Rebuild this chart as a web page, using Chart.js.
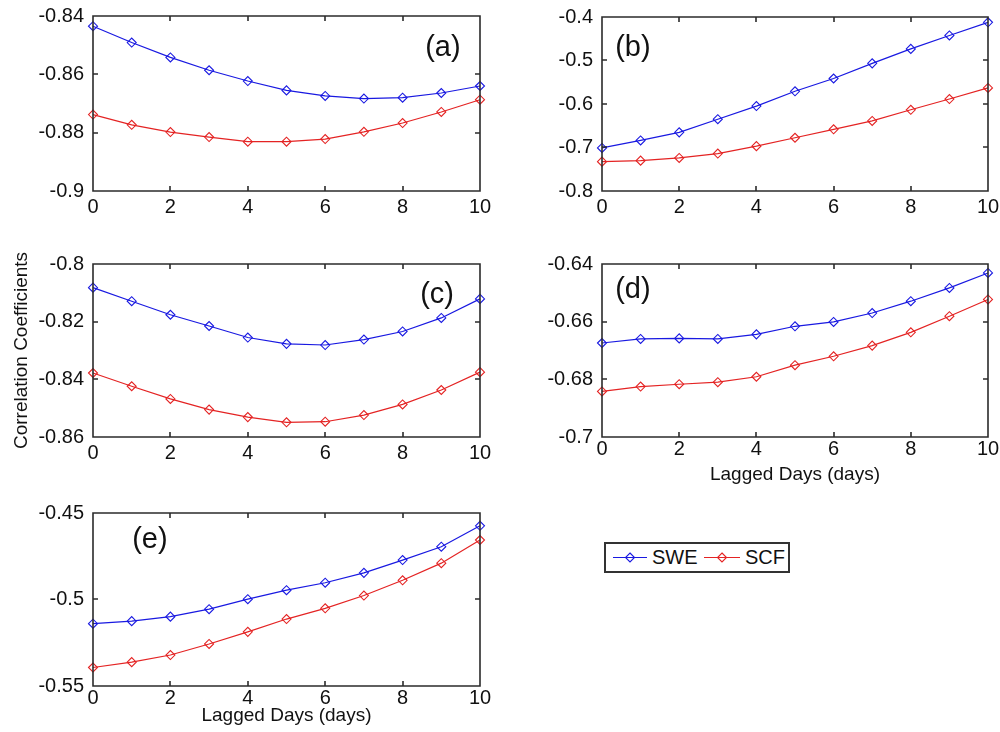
<!DOCTYPE html>
<html>
<head>
<meta charset="utf-8">
<script src="https://cdn.jsdelivr.net/npm/chart.js@4"></script>
<style>
  html, body { margin: 0; padding: 0; background: #fff; }
  #fig { position: relative; width: 1000px; height: 732px; overflow: hidden;
         font-family: "Liberation Sans", Arial, sans-serif; }
  #fig canvas { position: absolute; }
  .legend { position: absolute; left: 604px; top: 542px; width: 186px; height: 31px;
            border: 2px solid #333; box-sizing: border-box; background: #fff; }
  .legend svg { position: absolute; left: 0; top: 0; }
  .legend span { position: absolute; top: 0; line-height: 27px; font-size: 20px; color: #111; }
</style>
</head>
<body>
<div id="fig"></div>
<script>
// Lag (days) on the x axis, shared by every panel
const lagDays = [0, 1, 2, 3, 4, 5, 6, 7, 8, 9, 10];
const xTickValues = [0, 2, 4, 6, 8, 10];
const seriesNames = ['SWE', 'SCF'];

// Correlation coefficients per panel
const sweA = [-0.8435, -0.8491, -0.8542, -0.8586, -0.8623, -0.8655, -0.8674, -0.8683, -0.8680, -0.8664, -0.8640];
const scfA = [-0.8738, -0.8773, -0.8798, -0.8815, -0.8831, -0.8831, -0.8822, -0.8797, -0.8767, -0.8729, -0.8687];
const sweB = [-0.7010, -0.6838, -0.6652, -0.6350, -0.6048, -0.5708, -0.5414, -0.5066, -0.4733, -0.4424, -0.4122];
const scfB = [-0.7325, -0.7302, -0.7240, -0.7139, -0.6969, -0.6776, -0.6582, -0.6389, -0.6133, -0.5886, -0.5631];
const sweC = [-0.8082, -0.8129, -0.8176, -0.8215, -0.8255, -0.8277, -0.8281, -0.8262, -0.8234, -0.8187, -0.8121];
const scfC = [-0.8378, -0.8424, -0.8468, -0.8505, -0.8531, -0.8549, -0.8547, -0.8524, -0.8487, -0.8437, -0.8375];
const sweD = [-0.6674, -0.6660, -0.6658, -0.6660, -0.6644, -0.6616, -0.6601, -0.6570, -0.6529, -0.6483, -0.6431];
const scfD = [-0.6842, -0.6825, -0.6817, -0.6810, -0.6791, -0.6751, -0.6720, -0.6683, -0.6637, -0.6581, -0.6523];
const sweE = [-0.5140, -0.5125, -0.5099, -0.5056, -0.4998, -0.4946, -0.4903, -0.4846, -0.4772, -0.4695, -0.4574];
const scfE = [-0.5393, -0.5362, -0.5321, -0.5257, -0.5187, -0.5113, -0.5051, -0.4977, -0.4889, -0.4790, -0.4656];

// Y tick values per panel
const yTicksA = [-0.9, -0.88, -0.86, -0.84];
const yTicksB = [-0.8, -0.7, -0.6, -0.5, -0.4];
const yTicksC = [-0.86, -0.84, -0.82, -0.8];
const yTicksD = [-0.7, -0.68, -0.66, -0.64];
const yTicksE = [-0.55, -0.5, -0.45];

const panelTags = ['(a)', '(b)', '(c)', '(d)', '(e)'];
const xAxisTitle = 'Lagged Days (days)';
const yAxisTitle = 'Correlation Coefficients';

const SWE_COLOR = 'rgb(25,25,225)';
const SCF_COLOR = 'rgb(228,35,35)';
const FONT = '"Liberation Sans", Arial, sans-serif';
const INK = '#111';

// Page layout: plot box and canvas box for every panel, plus tag position in axes fractions.
// Canvases leave room above and right of the plot for the edge tick labels (the figure clips overflow).
const panels = [
  { swe: sweA, scf: scfA, yt: yTicksA, tag: panelTags[0], tx: 0.904, ty: 0.17, xPad: 4,
    plot: { l: 93, t: 16, r: 480, b: 191 }, box: { x: 0, y: -10, w: 500, h: 235 } },
  { swe: sweB, scf: scfB, yt: yTicksB, tag: panelTags[1], tx: 0.080, ty: 0.167, xPad: 4,
    plot: { l: 602, t: 17, r: 988, b: 191 }, box: { x: 500, y: -10, w: 512, h: 235 } },
  { swe: sweC, scf: scfC, yt: yTicksC, tag: panelTags[2], tx: 0.889, ty: 0.168, xPad: 4, yTitle: true,
    plot: { l: 93, t: 264, r: 480, b: 437 }, box: { x: 0, y: 236, w: 500, h: 235 } },
  { swe: sweD, scf: scfD, yt: yTicksD, tag: panelTags[3], tx: 0.080, ty: 0.139, xPad: 0, xTitle: true,
    plot: { l: 602, t: 264, r: 988, b: 437 }, box: { x: 500, y: 236, w: 512, h: 255 } },
  { swe: sweE, scf: scfE, yt: yTicksE, tag: panelTags[4], tx: 0.147, ty: 0.145, xPad: 0, xTitle: true,
    plot: { l: 93, t: 513, r: 480, b: 686 }, box: { x: 0, y: 490, w: 500, h: 242 } }
];

// Box around the axes with inward tick marks on all four sides, plus the panel tag
const axesFrame = {
  id: 'axesFrame',
  afterDraw(chart, args, opts) {
    const { ctx, chartArea: a, scales } = chart;
    const L = Math.round(a.left), R = Math.round(a.right);
    const T = Math.round(a.top), B = Math.round(a.bottom);
    const tl = 5;
    ctx.save();
    ctx.strokeStyle = '#2b2b2b';
    ctx.lineWidth = 1.6;
    ctx.beginPath();
    ctx.rect(L, T, R - L, B - T);
    scales.x.ticks.forEach(tk => {
      const px = Math.round(scales.x.getPixelForValue(tk.value));
      ctx.moveTo(px, B); ctx.lineTo(px, B - tl);
      ctx.moveTo(px, T); ctx.lineTo(px, T + tl);
    });
    scales.y.ticks.forEach(tk => {
      const py = Math.round(scales.y.getPixelForValue(tk.value));
      ctx.moveTo(L, py); ctx.lineTo(L + tl, py);
      ctx.moveTo(R, py); ctx.lineTo(R - tl, py);
    });
    ctx.stroke();
    if (opts.tag) {
      ctx.fillStyle = INK;
      ctx.font = '29px ' + FONT;
      ctx.textAlign = 'center';
      ctx.textBaseline = 'middle';
      ctx.fillText(opts.tag, a.left + opts.tx * (a.right - a.left), a.top + opts.ty * (a.bottom - a.top) + 2);
    }
    ctx.restore();
  }
};

const fmt = v => String(+Number(v).toFixed(3));

function series(name, vals, color) {
  return {
    label: name,
    data: lagDays.map((d, i) => ({ x: d, y: vals[i] })),
    borderColor: color,
    borderWidth: 1.2,
    tension: 0,
    pointStyle: 'rectRot',
    pointRadius: 4.5,
    pointBorderWidth: 1.1,
    pointBorderColor: color,
    pointBackgroundColor: 'rgba(0,0,0,0)',
    clip: false
  };
}

const fig = document.getElementById('fig');

panels.forEach(p => {
  const cv = document.createElement('canvas');
  cv.width = p.box.w; cv.height = p.box.h;
  cv.style.left = p.box.x + 'px'; cv.style.top = p.box.y + 'px';
  cv.style.width = p.box.w + 'px'; cv.style.height = p.box.h + 'px';
  fig.appendChild(cv);

  const yWidth = p.plot.l - p.box.x;
  const xHeight = p.box.y + p.box.h - p.plot.b;
  const padTop = p.plot.t - p.box.y;
  const padRight = p.box.x + p.box.w - p.plot.r;

  new Chart(cv, {
    type: 'line',
    data: { datasets: [series(seriesNames[0], p.swe, SWE_COLOR), series(seriesNames[1], p.scf, SCF_COLOR)] },
    options: {
      responsive: false,
      animation: false,
      events: [],
      devicePixelRatio: 1,
      layout: { padding: { top: padTop, right: padRight, left: 0, bottom: 0 } },
      scales: {
        x: {
          type: 'linear', min: lagDays[0], max: lagDays[lagDays.length - 1],
          grid: { display: false, drawTicks: false },
          border: { display: false },
          afterBuildTicks: s => { s.ticks = xTickValues.map(v => ({ value: v })); },
          afterFit: s => { s.height = xHeight; },
          ticks: { autoSkip: false, maxRotation: 0, padding: p.xPad, color: INK,
                   font: { family: FONT, size: 20 }, callback: fmt },
          title: { display: !!p.xTitle, text: xAxisTitle, color: INK,
                   font: { family: FONT, size: 19 }, padding: { top: 0, bottom: 5 } }
        },
        y: {
          type: 'linear', min: p.yt[0], max: p.yt[p.yt.length - 1],
          grid: { display: false, drawTicks: false },
          border: { display: false },
          afterBuildTicks: s => { s.ticks = p.yt.map(v => ({ value: v })); },
          afterFit: s => { s.width = yWidth; },
          ticks: { autoSkip: false, padding: 9, color: INK,
                   font: { family: FONT, size: 20 }, callback: fmt },
          title: { display: !!p.yTitle, text: yAxisTitle, color: INK,
                   font: { family: FONT, size: 19 }, padding: { top: 10, bottom: 0 } }
        }
      },
      plugins: {
        legend: { display: false },
        tooltip: { enabled: false },
        axesFrame: { tag: p.tag, tx: p.tx, ty: p.ty }
      }
    },
    plugins: [axesFrame]
  });
});

// Shared legend for both series
const legend = document.createElement('div');
legend.className = 'legend';
const NS = 'http://www.w3.org/2000/svg';
const svg = document.createElementNS(NS, 'svg');
svg.setAttribute('width', '182'); svg.setAttribute('height', '27');
const legendItems = [
  { name: seriesNames[0], color: SWE_COLOR, x0: 7, x1: 41, text: 46 },
  { name: seriesNames[1], color: SCF_COLOR, x0: 98, x1: 134, text: 139 }
];
legendItems.forEach(it => {
  const cy = 13.5;
  const line = document.createElementNS(NS, 'line');
  line.setAttribute('x1', it.x0); line.setAttribute('x2', it.x1);
  line.setAttribute('y1', cy); line.setAttribute('y2', cy);
  line.setAttribute('stroke', it.color); line.setAttribute('stroke-width', '1.2');
  svg.appendChild(line);
  const mx = (it.x0 + it.x1) / 2, r = 4.5;
  const dia = document.createElementNS(NS, 'polygon');
  dia.setAttribute('points', `${mx},${cy - r} ${mx + r},${cy} ${mx},${cy + r} ${mx - r},${cy}`);
  dia.setAttribute('fill', 'none'); dia.setAttribute('stroke', it.color); dia.setAttribute('stroke-width', '1.1');
  svg.appendChild(dia);
});
legend.appendChild(svg);
legendItems.forEach(it => {
  const sp = document.createElement('span');
  sp.textContent = it.name;
  sp.style.left = it.text + 'px';
  legend.appendChild(sp);
});
fig.appendChild(legend);
</script>
</body>
</html>
